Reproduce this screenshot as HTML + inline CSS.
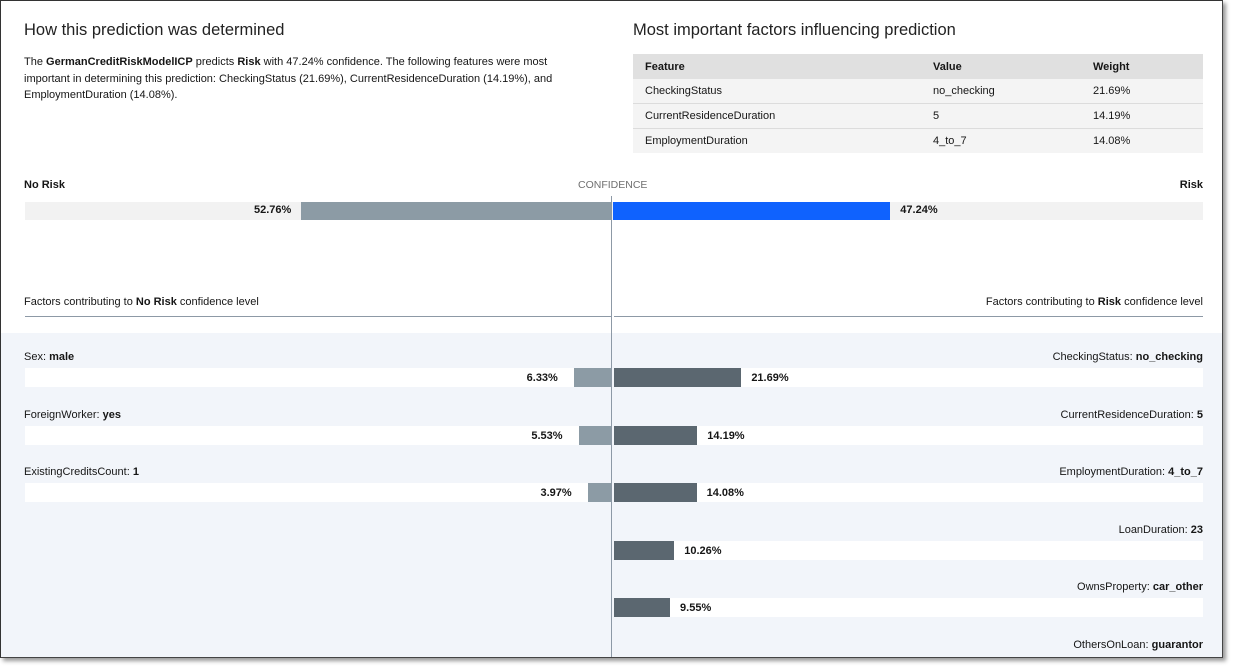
<!DOCTYPE html>
<html><head><meta charset="utf-8"><style>
body{margin:0;width:1235px;height:667px;background:#fff;font-family:"Liberation Sans",sans-serif;color:#161616;overflow:hidden;position:relative}
#frame{position:absolute;left:0;top:0;width:1221px;height:656px;border-left:1px solid #333;border-top:1px solid #333;border-right:1px solid #444;border-bottom:1px solid #444;box-shadow:3px 3px 4px #999;overflow:hidden;background:#fff}
#in{position:absolute;left:-1px;top:-1px;width:1223px;height:658px}
.a{position:absolute;white-space:nowrap}
.t{font-size:11px}
table{border-collapse:collapse;font-size:11px}
td{height:24px;border-bottom:1px solid #dcdcdc;background:#f4f4f4;padding:0 0 0 12px}
th{height:25px;background:#e0e0e0;text-align:left;font-weight:bold;padding:0 0 0 12px}
</style></head><body>
<div id="frame"><div id="in">
<div class="a" style="left:24px;top:21px;font-size:16.5px;color:#222">How this prediction was determined</div>
<div class="a t" style="left:24px;top:54px;line-height:16.5px;white-space:normal;width:560px">The <b>GermanCreditRiskModelICP</b> predicts <b>Risk</b> with 47.24% confidence. The following features were most important in determining this prediction: CheckingStatus (21.69%), CurrentResidenceDuration (14.19%), and EmploymentDuration (14.08%).</div>
<div class="a" style="left:633px;top:21px;font-size:16.5px;color:#222">Most important factors influencing prediction</div>
<table class="a" style="left:633px;top:54px;width:570px">
<tr><th style="width:276px">Feature</th><th style="width:148px">Value</th><th>Weight</th></tr>
<tr><td>CheckingStatus</td><td>no_checking</td><td>21.69%</td></tr>
<tr><td>CurrentResidenceDuration</td><td>5</td><td>14.19%</td></tr>
<tr><td style="border:0">EmploymentDuration</td><td style="border:0">4_to_7</td><td style="border:0">14.08%</td></tr>
</table>
<div class="a t" style="left:24px;top:179px;font-weight:bold">No Risk</div>
<div class="a t" style="left:578px;top:179px;color:#6f6f6f;font-size:10.5px">CONFIDENCE</div>
<div class="a t" style="right:20px;top:179px;font-weight:bold">Risk</div>
<div class="a" style="left:25px;top:202px;width:1178px;height:18px;background:#f2f2f2"></div>
<div class="a" style="left:0;top:333px;width:1223px;height:330px;background:#f2f5fa"></div>
<div class="a t" style="left:24px;top:296px">Factors contributing to <b>No Risk</b> confidence level</div>
<div class="a t" style="right:20px;top:296px">Factors contributing to <b>Risk</b> confidence level</div>
<div class="a" style="left:25px;top:316px;width:586px;height:1px;background:#8d99a6"></div>
<div class="a" style="left:614px;top:316px;width:589px;height:1px;background:#8d99a6"></div>
<div id="chart"></div>
<div class="a" style="left:611px;top:196px;width:1px;height:470px;background:#8d99a6"></div>
</div></div>
<script>
const confCategories=["No Risk","Risk"];
const confValues=[52.76,47.24];
const leftNames=["Sex","ForeignWorker","ExistingCreditsCount"];
const leftVals=["male","yes","1"];
const leftWeights=[6.33,5.53,3.97];
const rightNames=["CheckingStatus","CurrentResidenceDuration","EmploymentDuration","LoanDuration","OwnsProperty","OthersOnLoan"];
const rightVals=["no_checking","5","4_to_7","23","car_other","guarantor"];
const rightWeights=[21.69,14.19,14.08,10.26,9.55,8.5];
const C=612, K=5.87, W=1223;
function xs(v){return v*K;}
const f=document.getElementById('in');
function div(st,name,html){const d=document.createElement('div');d.className='a t';d.style.cssText=st;if(html)d.innerHTML=html;


f.appendChild(d);return d;}
div(`left:${C-1-xs(confValues[0])}px;top:202px;width:${xs(confValues[0])}px;height:18px;background:#8c9ba5`,'confidence-bar-no-risk');
div(`right:${W-(C-1-xs(confValues[0]))+10}px;top:204px;font-weight:bold`,'confidence-value-no-risk',confValues[0].toFixed(2)+'%');
div(`left:${C+1}px;top:202px;width:${xs(confValues[1])}px;height:18px;background:#0f62fe`,'confidence-bar-risk');
div(`left:${C+1+xs(confValues[1])+10}px;top:204px;font-weight:bold`,'confidence-value-risk',confValues[1].toFixed(2)+'%');
const rowY=i=>368+i*57.5;
leftWeights.forEach((w,i)=>{const y=rowY(i);
div(`left:24px;top:${y-17}px`,'left-factor-label',leftNames[i]+': <b>'+leftVals[i]+'</b>');
div(`left:25px;top:${y}px;width:586px;height:19px;background:#fff`,'left-factor-row');
div(`left:${C-1-xs(w)}px;top:${y}px;width:${xs(w)}px;height:19px;background:#8c9ba5`,'left-factor-bar');
div(`right:${W-(C-1-xs(w))+16}px;top:${y+4}px;font-weight:bold`,'left-factor-value',w.toFixed(2)+'%');
});
rightWeights.forEach((w,i)=>{const y=rowY(i);
div(`right:20px;top:${y-17}px`,'right-factor-label',rightNames[i]+': <b>'+rightVals[i]+'</b>');
if(y>650)return;
div(`left:614px;top:${y}px;width:589px;height:19px;background:#fff`,'right-factor-row');
div(`left:${C+2}px;top:${y}px;width:${xs(w)}px;height:19px;background:#5b6770`,'right-factor-bar');
div(`left:${C+2+xs(w)+10}px;top:${y+4}px;font-weight:bold`,'right-factor-value',w.toFixed(2)+'%');
});
</script>
</body></html>
